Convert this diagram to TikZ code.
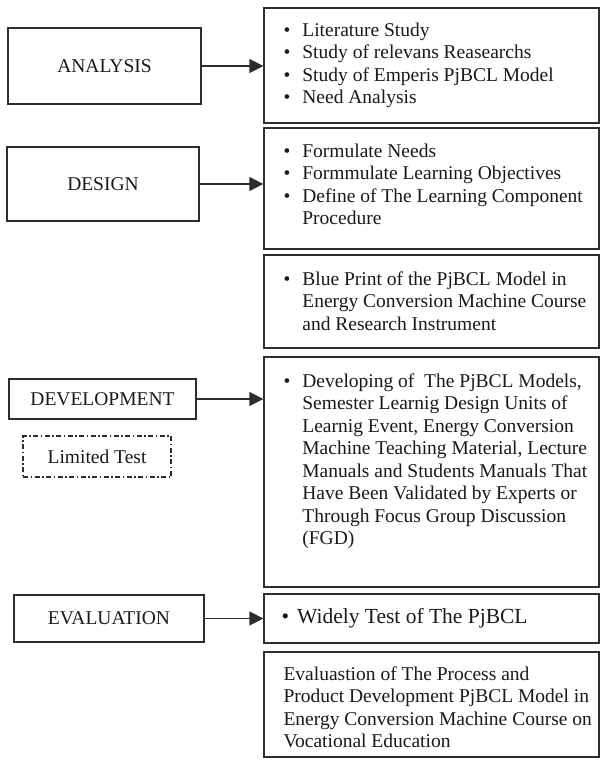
\documentclass[tikz,border=0pt]{standalone}
\usepackage{fontspec}
\setmainfont{Liberation Serif}
\usepackage{tikz}
\usetikzlibrary{arrows.meta,positioning}
\definecolor{myline}{RGB}{45,45,45}
\definecolor{mytext}{RGB}{25,25,25}

\newcommand{\bitems}[1]{\begin{tabular}{@{}l@{\hspace{12pt}}l@{}}#1\end{tabular}}

\begin{document}
\begin{tikzpicture}[x=1pt, y=-1pt,
    font=\fontsize{19.5}{22.5}\selectfont, text=mytext,
    stagebox/.style={draw=myline, line width=1.3pt, inner sep=0pt},
    workbox/.style={draw=myline, line width=1.3pt, inner sep=0pt,
                    minimum width=335pt},
    worktxt/.style={anchor=north west, inner sep=0pt, align=left},
    testbox/.style={draw=myline, line width=1.1pt, inner sep=0pt,
                    dash pattern=on 5pt off 2.5pt on 1.5pt off 2.5pt},
    flow/.style={draw=myline, line width=1.4pt,
                 -{Triangle[length=14pt,width=14pt]}}]
  \useasboundingbox (0,0) rectangle (601,760);

  % Stages on the left
  \node[stagebox, minimum width=193pt, minimum height=76pt] (ana) at (104.5,66) {ANALYSIS};
  \node[stagebox, minimum width=192pt, minimum height=74pt] (des) at (103,184) {DESIGN};
  \node[stagebox, minimum width=187pt, minimum height=40pt] (dev) at (102.5,399) {DEVELOPMENT};
  \node[testbox, minimum width=148pt, minimum height=41pt] (lim) at (97,456.5) {Limited Test};
  \node[stagebox, minimum width=190pt, minimum height=47pt] (eva) at (109,618.5) {EVALUATION};

  % Work boxes on the right
  \node[workbox, minimum height=115pt] (lit) at (431.5,65.5) {};
  \node[workbox, minimum height=121pt] (frm) at (431.5,188.5) {};
  \node[workbox, minimum height=93pt]  (blu) at (431.5,301.5) {};
  \node[workbox, minimum height=230pt] (dvp) at (431.5,472) {};
  \node[workbox, minimum height=49pt]  (wid) at (431.5,618.5) {};
  \node[workbox, minimum height=105pt] (evb) at (431.5,704.5) {};

  % Texts of the work boxes
  \node[worktxt] (littxt) at ([shift={(20,13)}]lit.north west)
    {\bitems{\textbullet & Literature Study\\ \textbullet & Study of relevans Reasearchs\\
     \textbullet & Study of Emperis PjBCL Model\\ \textbullet & Need Analysis}};
  \node[worktxt] (frmtxt) at ([shift={(20,14)}]frm.north west)
    {\bitems{\textbullet & Formulate Needs\\ \textbullet & Formmulate Learning Objectives\\
     \textbullet & Define of The Learning Component\\ & Procedure}};
  \node[worktxt] (blutxt) at ([shift={(20,15)}]blu.north west)
    {\bitems{\textbullet & Blue Print of the PjBCL Model in\\ & Energy Conversion Machine Course\\
     & and Research Instrument}};
  \node[worktxt] (dvptxt) at ([shift={(20,15)}]dvp.north west)
    {\bitems{\textbullet & Developing of \ The PjBCL Models,\\ & Semester Learnig Design Units of\\
     & Learnig Event, Energy Conversion\\ & Machine Teaching Material, Lecture\\
     & Manuals and Students Manuals That\\ & Have Been Validated by Experts or\\
     & Through Focus Group Discussion\\ & (FGD)}};
  \node[worktxt, font=\fontsize{21.5}{25}\selectfont, anchor=west] (widtxt) at ([xshift=18]wid.west)
    {\textbullet\hspace{8pt}Widely Test of The PjBCL};
  \node[worktxt] (evbtxt) at ([shift={(20,15)}]evb.north west)
    {Evaluastion of The Process and\\ Product Development PjBCL Model in\\
     Energy Conversion Machine Course on\\ Vocational Education};

  % Arrows
  \foreach \s/\t in {ana/lit, des/frm, dev/dvp, eva/wid}
    \draw[flow] (\s.east) -- (\s.east -| \t.west);
\end{tikzpicture}
\end{document}
